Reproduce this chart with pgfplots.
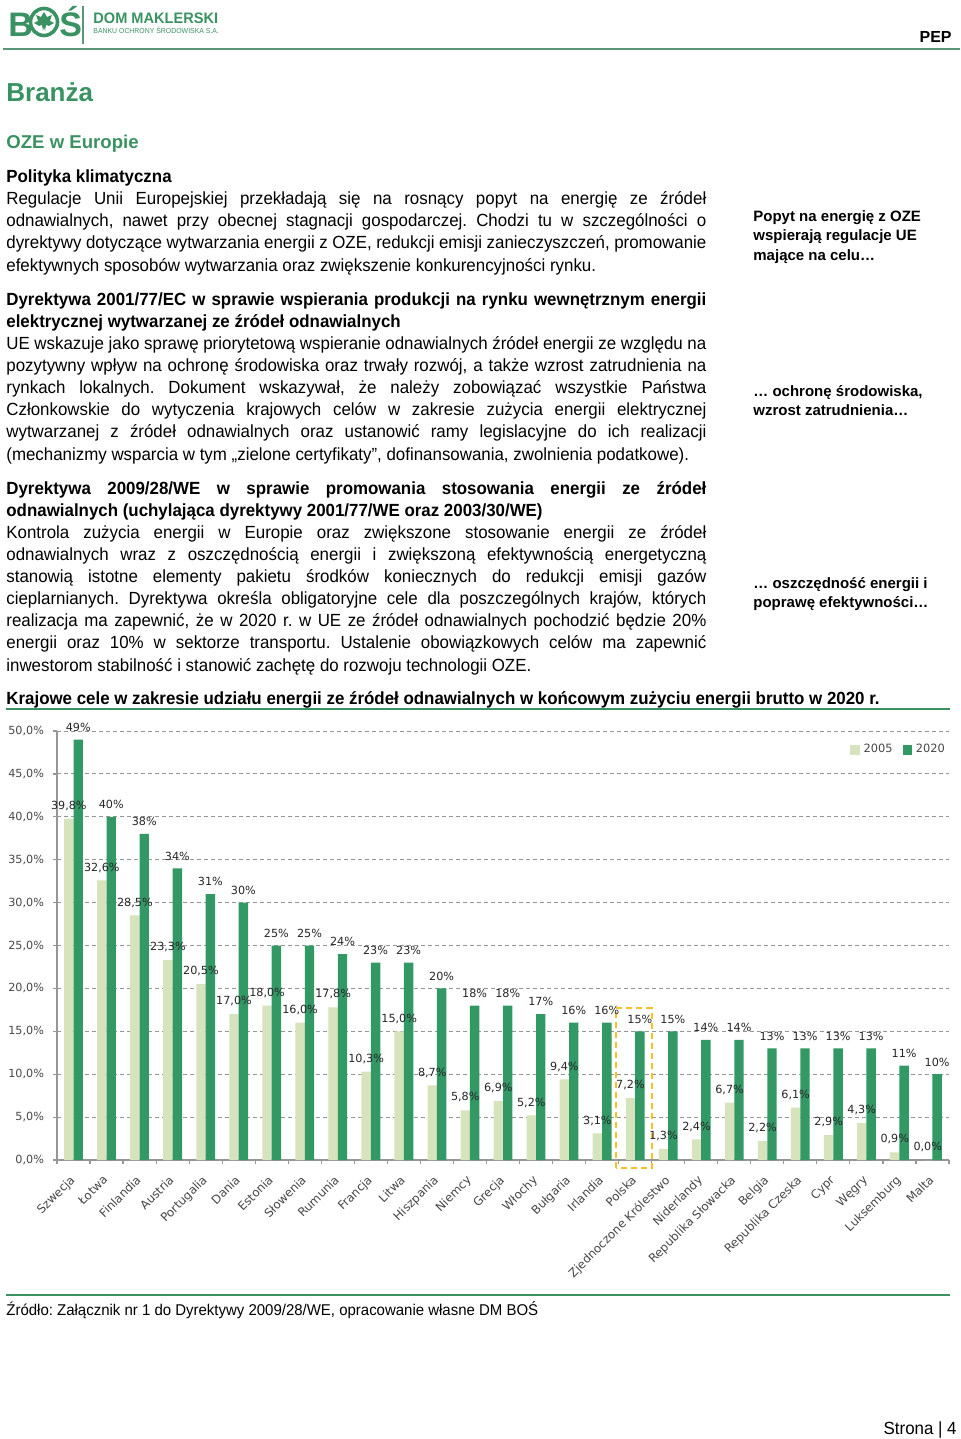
\documentclass[border=0pt]{standalone}
\usepackage{pgfplots}
\pgfplotsset{compat=1.18}
\usepackage{pgfplotstable}
\usepackage{fontspec}
\setmainfont{Liberation Sans}
\newfontfamily\bodyf[FakeStretch=0.96]{Liberation Sans}
\newfontfamily\chartf{DejaVu Sans}
\definecolor{bosgreen}{RGB}{58,146,98}
\definecolor{darkbar}{RGB}{50,152,100}
\definecolor{lightbar}{RGB}{214,227,188}
\definecolor{axisgray}{RGB}{150,150,150}
\definecolor{gridgray}{RGB}{150,150,150}
\definecolor{labelgray}{RGB}{70,70,70}
\definecolor{headline}{RGB}{90,150,120}
\definecolor{yellowd}{RGB}{245,195,40}

\pgfplotstableread{
x a b
0 39.8 49
1 32.6 40
2 28.5 38
3 23.3 34
4 20.5 31
5 17.0 30
6 18.0 25
7 16.0 25
8 17.8 24
9 10.3 23
10 15.0 23
11 8.7 20
12 5.8 18
13 6.9 18
14 5.2 17
15 9.4 16
16 3.1 16
17 7.2 15
18 1.3 15
19 2.4 14
20 6.7 14
21 2.2 13
22 6.1 13
23 2.9 13
24 4.3 13
25 0.9 11
26 0.0 10
}\data

\newcommand\bodyfont{\bodyf\fontsize{8.8}{10}\selectfont}
\newcommand\JL[2]{\node[anchor=base west,inner sep=0pt,font=\bodyfont] at (6,#1) {\hbox to 350pt{#2}};}
\newcommand\NL[2]{\node[anchor=base west,inner sep=0pt,font=\bodyfont] at (6,#1) {#2};}
\newcommand\SB[2]{\node[anchor=base west,inner sep=0pt,font=\bfseries\fontsize{7.5}{9}\selectfont] at (753,#1) {#2};}

\begin{document}
\frenchspacing
\begin{tikzpicture}
\path[use as bounding box] (0,0) rectangle (480pt,-719.5pt);
\begin{scope}[x=0.5pt,y=-0.5pt]
% header logo
\node[anchor=base west,inner sep=0pt,text=bosgreen,font=\bfseries\fontsize{17}{18}\selectfont] at (8,37) {B};
\draw[bosgreen,line width=1.8pt] (44,22) circle (13.5);
\fill[bosgreen,shift={(44,22)}] (0,-10)--(3,-5)--(8,-7)--(6,-1)--(10,1)--(5,4)--(2,3)--(1,9)--(0,5)--(-1,9)--(-2,3)--(-5,4)--(-10,1)--(-6,-1)--(-8,-7)--(-3,-5)--cycle;
\node[anchor=base west,inner sep=0pt,text=bosgreen,font=\bfseries\fontsize{17}{18}\selectfont] at (59,37) {Ś};
\draw[headline,line width=0.6pt] (83,6)--(83,44);
\node[anchor=base west,inner sep=0pt,text=bosgreen,font=\bodyf\bfseries\fontsize{7.6}{8}\selectfont] at (93,24) {DOM MAKLERSKI};
\node[anchor=base west,inner sep=0pt,text=bosgreen,font=\bodyf\fontsize{3.6}{4}\selectfont] at (93,34) {BANKU OCHRONY ŚRODOWISKA S.A.};
\node[anchor=base east,inner sep=0pt,font=\bfseries\fontsize{8}{9}\selectfont] at (952,43) {PEP};
\draw[headline,line width=0.7pt] (3,49)--(960,49);
% titles
\node[anchor=base west,inner sep=0pt,text=bosgreen,font=\bfseries\fontsize{13}{14}\selectfont] at (6,102) {Branża};
\node[anchor=base west,inner sep=0pt,text=bosgreen,font=\bfseries\fontsize{9.3}{10}\selectfont] at (6,149) {OZE w Europie};
% paragraph 1
\NL{183}{\bfseries Polityka klimatyczna}
\JL{205}{Regulacje Unii Europejskiej przekładają się na rosnący popyt na energię ze źródeł}
\JL{227}{odnawialnych, nawet przy obecnej stagnacji gospodarczej. Chodzi tu w szczególności o}
\JL{249}{dyrektywy dotyczące wytwarzania energii z OZE, redukcji emisji zanieczyszczeń, promowanie}
\NL{271}{efektywnych sposobów wytwarzania oraz zwiększenie konkurencyjności rynku.}
% paragraph 2
\JL{305}{\bfseries Dyrektywa 2001/77/EC w sprawie wspierania produkcji na rynku wewnętrznym energii}
\NL{327}{\bfseries elektrycznej wytwarzanej ze źródeł odnawialnych}
\JL{349}{UE wskazuje jako sprawę priorytetową wspieranie odnawialnych źródeł energii ze względu na}
\JL{371}{pozytywny wpływ na ochronę środowiska oraz trwały rozwój, a także wzrost zatrudnienia na}
\JL{393}{rynkach lokalnych. Dokument wskazywał, że należy zobowiązać wszystkie Państwa}
\JL{415}{Członkowskie do wytyczenia krajowych celów w zakresie zużycia energii elektrycznej}
\JL{437}{wytwarzanej z źródeł odnawialnych oraz ustanowić ramy legislacyjne do ich realizacji}
\NL{460}{(mechanizmy wsparcia w tym „zielone certyfikaty”, dofinansowania, zwolnienia podatkowe).}
% paragraph 3
\JL{494}{\bfseries Dyrektywa 2009/28/WE w sprawie promowania stosowania energii ze źródeł}
\NL{516}{\bfseries odnawialnych (uchylająca dyrektywy 2001/77/WE oraz 2003/30/WE)}
\JL{538}{Kontrola zużycia energii w Europie oraz zwiększone stosowanie energii ze źródeł}
\JL{560}{odnawialnych wraz z oszczędnością energii i zwiększoną efektywnością energetyczną}
\JL{582}{stanowią istotne elementy pakietu środków koniecznych do redukcji emisji gazów}
\JL{604}{cieplarnianych. Dyrektywa określa obligatoryjne cele dla poszczególnych krajów, których}
\JL{626}{realizacja ma zapewnić, że w 2020 r. w UE ze źródeł odnawialnych pochodzić będzie 20\%}
\JL{648}{energii oraz 10\% w sektorze transportu. Ustalenie obowiązkowych celów ma zapewnić}
\NL{671}{inwestorom stabilność i stanowić zachętę do rozwoju technologii OZE.}
% sidebar
\SB{221}{Popyt na energię z OZE}
\SB{241}{wspierają regulacje UE}
\SB{260}{mające na celu…}
\SB{396}{… ochronę środowiska,}
\SB{415}{wzrost zatrudnienia…}
\SB{588}{… oszczędność energii i}
\SB{607}{poprawę efektywności…}
% chart title
\NL{704}{\bfseries Krajowe cele w zakresie udziału energii ze źródeł odnawialnych w końcowym zużyciu energii brutto w 2020 r.}
\draw[bosgreen,line width=1.4pt] (6,709)--(950,709);
% source
\draw[bosgreen,line width=1.4pt] (6,1295)--(950,1295);
\node[anchor=base west,inner sep=0pt,font=\bodyf\fontsize{7.8}{9}\selectfont] at (6,1315) {Źródło: Załącznik nr 1 do Dyrektywy 2009/28/WE, opracowanie własne DM BOŚ};
\node[anchor=base east,inner sep=0pt,font=\bodyf\fontsize{8.8}{10}\selectfont] at (957,1434) {Strona | 4};
\end{scope}

\begin{axis}[
  at={(28.5pt,-580pt)}, anchor=south west,
  scale only axis, width=446pt, height=214.5pt,
  xmin=-0.5, xmax=26.5, ymin=0, ymax=50,
  ybar=0pt, bar width=4.7pt,
  clip=false,
  axis x line*=bottom, axis y line*=left,
  axis line style={draw=axisgray, line width=0.6pt},
  ytick={0,5,...,50},
  ymajorgrids,
  major grid style={draw=gridgray, dash pattern=on 2pt off 1.5pt, line width=0.45pt},
  ytick style={draw=axisgray, line width=0.6pt},
  tick align=outside, major tick length=2pt,
  yticklabel={\pgfmathprintnumber[fixed,fixed zerofill,precision=1,use comma]{\tick}\%},
  /pgf/number format/assume math mode=true,
  tick label style={font=\chartf\fontsize{5.6}{6}\selectfont, text=labelgray},
  yticklabel style={xshift=-1pt},
  xtick={0,...,26},
  xticklabels={Szwecja,Łotwa,Finlandia,Austria,Portugalia,Dania,Estonia,Słowenia,Rumunia,Francja,Litwa,Hiszpania,Niemcy,Grecja,Włochy,Bułgaria,Irlandia,Polska,Zjednoczone Królestwo,Niderlandy,Republika Słowacka,Belgia,Republika Czeska,Cypr,Węgry,Luksemburg,Malta},
  xtick style={draw=none},
  xticklabel style={xshift=-2.2pt, yshift=-3.6pt, rotate=45, anchor=north east, inner sep=1pt, font=\chartf\fontsize{5.9}{6}\selectfont},
  extra x ticks={-0.5,0.5,...,26.5},
  extra x tick labels={},
  extra x tick style={xtick style={draw=axisgray, line width=0.6pt}},
  every node near coord/.append style={font=\chartf\fontsize{5.6}{6}\selectfont, text=black!85, inner sep=0.8pt, yshift=3pt},
  legend style={draw=none, fill=none, at={(1.007,0.956)}, anchor=east, legend columns=2,
    font=\chartf\fontsize{5.7}{6}\selectfont, text=labelgray,
    /tikz/every even column/.append style={column sep=3pt}},
  legend image code/.code={\fill[#1] (0pt,-2.3pt) rectangle (4.6pt,2.3pt);},
]
\addplot[fill=lightbar, draw=none,
  nodes near coords={\pgfmathprintnumber[fixed,fixed zerofill,precision=1,use comma]{\pgfplotspointmeta}\%}]
  table[x=x,y=a]{\data};
\addplot[fill=darkbar, draw=none,
  nodes near coords={\pgfmathprintnumber[fixed,precision=0]{\pgfplotspointmeta}\%}]
  table[x=x,y=b]{\data};
\legend{2005,2020}
\draw[yellowd, line width=1pt, dash pattern=on 3pt off 2pt] (axis cs:16.43,-0.93) rectangle (axis cs:17.51,17.7);
\end{axis}
\end{tikzpicture}
\end{document}
